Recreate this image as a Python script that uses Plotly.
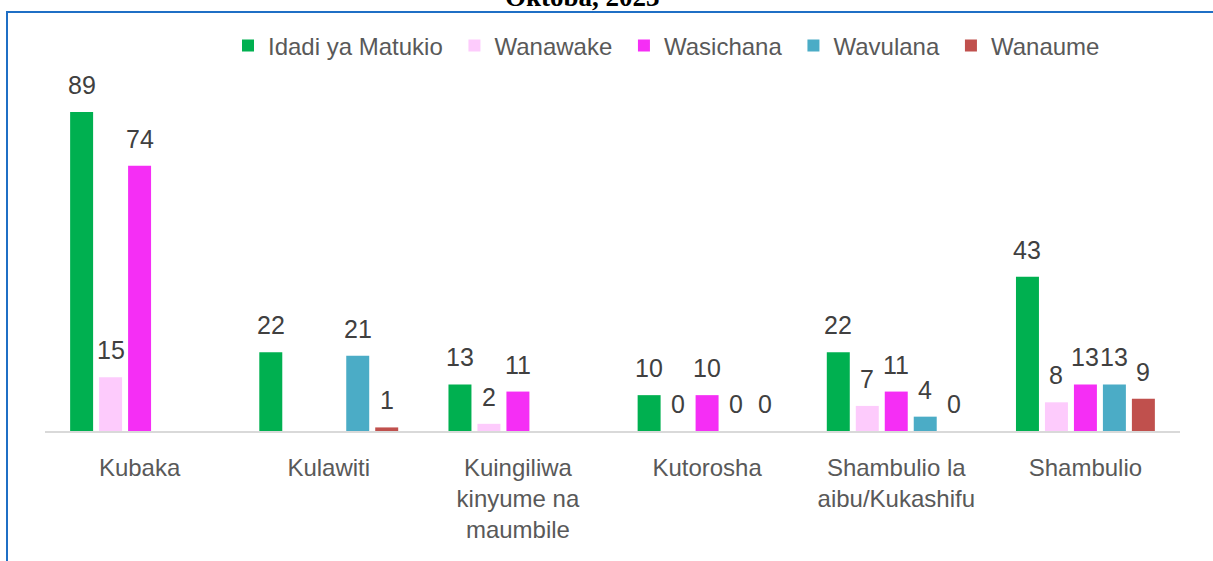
import plotly.graph_objects as go

categories = ["Kubaka", "Kulawiti", "Kuingiliwa<br>kinyume na<br>maumbile", "Kutorosha",
              "Shambulio la<br>aibu/Kukashifu", "Shambulio"]
series_names = ["Idadi ya Matukio", "Wanawake", "Wasichana", "Wavulana", "Wanaume"]
idadi = [89, 22, 13, 10, 22, 43]
wanawake = [15, None, 2, 0, 7, 8]
wasichana = [74, None, 11, 10, 11, 13]
wavulana = [None, 21, None, 0, 4, 13]
wanaume = [None, 1, None, 0, 0, 9]
values = [idadi, wanawake, wasichana, wavulana, wanaume]
colors = ["#00B050", "#FDCBFC", "#F52EF5", "#4BACC6", "#C0504D"]
title_text = "Oktoba, 2023"

W, H = 1213, 561
ML, MR, MT, MB = 45, 33, 70, 130
BARGAP, GROUPGAP = 0.234, 0.207
YMAX = 100.7
plot_w = W - ML - MR
plot_h = H - MT - MB
slot = plot_w / len(categories) * (1 - BARGAP) / len(series_names)

fig = go.Figure()
for name, vals, col in zip(series_names, values, colors):
    fig.add_trace(go.Bar(name=name + "\u00a0", x=categories, y=vals,
                         marker=dict(color=col, line=dict(width=0))))

annotations = []
for i, vals in enumerate(values):
    for c, v in zip(categories, vals):
        if v is None:
            continue
        annotations.append(dict(x=c, y=v, xref="x", yref="y", text=str(v), showarrow=False,
                                xanchor="center", yanchor="bottom",
                                xshift=(i - 2) * slot, yshift=11,
                                font=dict(family="Liberation Sans, Arial", size=25, color="#404040")))
annotations.append(dict(x=(582 - ML) / plot_w, y=1 + (MT - 14) / plot_h, xref="paper", yref="paper",
                        text="<b>" + title_text + "</b>", showarrow=False, xanchor="center",
                        yanchor="bottom",
                        font=dict(family="Liberation Serif, Times New Roman", size=27, color="#000000")))

fig.update_layout(
    width=W, height=H,
    margin=dict(l=ML, r=MR, t=MT, b=MB),
    paper_bgcolor="white", plot_bgcolor="white",
    barmode="group", bargap=BARGAP, bargroupgap=GROUPGAP,
    font=dict(family="Liberation Sans, Arial", size=24, color="#595959"),
    showlegend=True,
    legend=dict(orientation="h", x=(228 - ML) / plot_w, xanchor="left",
                y=1 + (MT - 46) / plot_h, yanchor="middle",
                font=dict(size=24, color="#595959"), itemclick=False, bgcolor="rgba(0,0,0,0)"),
    annotations=annotations,
    shapes=[dict(type="rect", xref="paper", yref="paper",
                 x0=(7 - ML) / plot_w, x1=1.2, y0=-0.6, y1=1 + (MT - 12) / plot_h,
                 line=dict(color="#1F6FC5", width=2), fillcolor="rgba(0,0,0,0)")],
)
fig.update_xaxes(showline=True, linecolor="#D9D9D9", linewidth=2, ticks="", showgrid=False,
                 tickfont=dict(size=24, color="#595959"), ticklabelstandoff=14)
fig.update_yaxes(range=[0, YMAX], visible=False, showgrid=False, zeroline=False)

fig.write_html("out.html")
